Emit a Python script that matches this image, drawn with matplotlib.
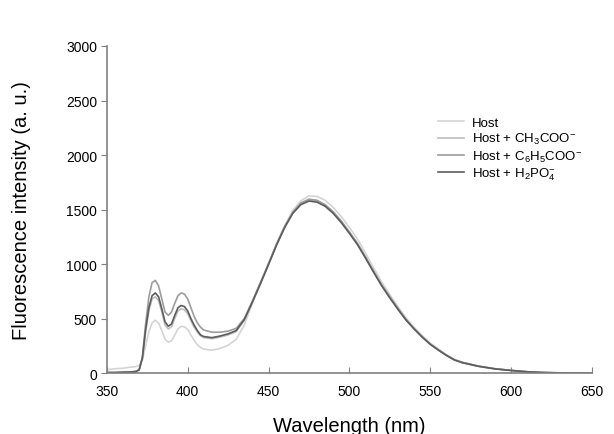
import matplotlib
matplotlib.use('Agg')
import matplotlib.pyplot as plt

plt.rcParams['font.family'] = ['Liberation Sans', 'DejaVu Sans']
plt.rcParams['mathtext.fontset'] = 'custom'
plt.rcParams['mathtext.rm'] = 'Liberation Sans'

# wavelength grid (nm)
wavelength = [350, 355, 360, 365, 368, 370, 372, 374, 376, 378, 380, 382, 384, 386, 388,
              390, 392, 394, 396, 398, 400, 402, 404, 406, 408, 410, 415, 420, 425, 430,
              435, 440, 445, 450, 455, 460, 465, 470, 475, 480, 485, 490, 495, 500, 505,
              510, 515, 520, 525, 530, 535, 540, 545, 550, 555, 560, 565, 570, 580, 590,
              600, 610, 620, 630, 640, 650]

host = [30, 40, 45, 55, 60, 70, 120, 250, 380, 460, 485, 460, 390, 310, 285,
        295, 350, 405, 428, 425, 400, 350, 300, 260, 235, 220, 210, 225, 255, 310,
        440, 640, 820, 1000, 1185, 1350, 1490, 1580, 1625, 1620, 1585, 1520, 1435, 1335, 1230,
        1100, 965, 835, 720, 610, 505, 420, 345, 275, 222, 170, 127, 100, 65, 40,
        25, 13, 6, 3, 1, 0]

host_ch3coo = [5, 5, 8, 10, 15, 30, 130, 380, 570, 680, 700, 665, 560, 440, 405,
               425, 500, 570, 590, 580, 545, 480, 420, 375, 340, 325, 315, 330, 350, 380,
               485, 655, 825, 1000, 1180, 1340, 1470, 1555, 1590, 1580, 1540, 1475, 1390, 1290, 1185,
               1060, 930, 805, 695, 590, 490, 408, 333, 266, 213, 163, 121, 96, 62, 39,
               24, 12, 5, 2, 1, 0]

host_c6h5coo = [5, 5, 8, 10, 15, 30, 150, 450, 700, 830, 850, 800, 680, 560, 530,
                560, 640, 710, 735, 725, 680, 600, 520, 460, 420, 395, 375, 375, 385, 410,
                500, 660, 830, 1005, 1185, 1345, 1475, 1560, 1595, 1585, 1545, 1480, 1395, 1295, 1190,
                1065, 935, 810, 700, 595, 495, 410, 335, 268, 215, 165, 122, 97, 63, 40,
                25, 12, 5, 2, 1, 0]

host_h2po4 = [5, 5, 8, 10, 15, 30, 140, 400, 600, 710, 735, 700, 590, 470, 430,
              450, 530, 600, 620, 610, 570, 500, 440, 390, 350, 335, 325, 340, 360, 390,
              490, 650, 820, 995, 1175, 1335, 1465, 1545, 1578, 1568, 1530, 1465, 1380, 1282, 1178,
              1055, 925, 800, 690, 585, 487, 405, 330, 264, 211, 162, 120, 95, 62, 39,
              24, 12, 5, 2, 1, 0]

labels = ['Host',
          'Host + CH$_3$COO$^{-}$',
          'Host + C$_6$H$_5$COO$^{-}$',
          'Host + H$_2$PO$_4^{-}$']
colors = ['#d4d4d4', '#bebebe', '#9c9c9c', '#5c5c5c']

fig = plt.figure(figsize=(6.14, 4.35), dpi=100)
ax = fig.add_axes([0.174, 0.14, 0.79, 0.752])

for y, lab, c in zip([host, host_ch3coo, host_c6h5coo, host_h2po4], labels, colors):
    ax.plot(wavelength, y, color=c, lw=1.2, label=lab)

ax.set_xlim(350, 650)
ax.set_ylim(0, 3000)
ax.set_xticks([350, 400, 450, 500, 550, 600, 650])
ax.set_yticks([0, 500, 1000, 1500, 2000, 2500, 3000])

for side in ['top', 'right']:
    ax.spines[side].set_visible(False)
for side in ['left', 'bottom']:
    ax.spines[side].set_color('#808080')
    ax.spines[side].set_linewidth(1.2)

ax.tick_params(axis='y', direction='out', length=4, color='#808080', labelsize=10, pad=3)
ax.tick_params(axis='x', direction='in', length=4, color='#808080', labelsize=10, pad=8)

ax.set_xlabel('Wavelength (nm)', fontsize=14.5, labelpad=13)
ax.set_ylabel('Fluorescence intensity (a. u.)', fontsize=14.5, labelpad=25)

ax.legend(loc='upper left', bbox_to_anchor=(0.672, 0.8), frameon=False, fontsize=9.5,
          handlelength=2.0, handletextpad=0.55, labelspacing=0.17, borderaxespad=0)

fig.savefig('out.png', dpi=100)
